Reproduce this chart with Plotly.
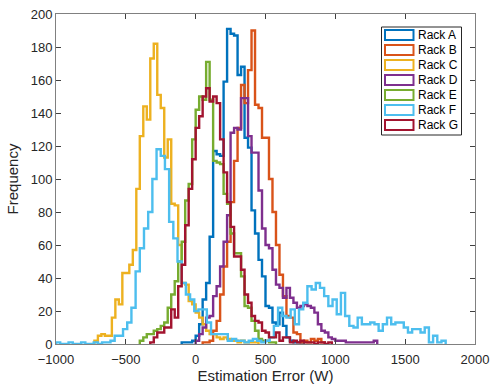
import numpy as np
import plotly.graph_objects as go

# ---------------- data ----------------
rack_names = ["Rack A", "Rack B", "Rack C", "Rack D", "Rack E", "Rack F", "Rack G"]

# first bin edge (W), bin width (W) and bin counts for every rack
rack_a_start, rack_a_width = -100, 25
rack_a_counts = [1, 1, 1, 2, 5, 12, 27, 37, 65, 117, 115, 114, 159, 191, 188, 187, 163, 168,
                 125, 119, 81, 67, 51, 41, 23, 22, 13, 12, 19, 11, 4, 2, 1, 1, 1]

rack_b_start, rack_b_width = 50, 25
rack_b_counts = [1, 1, 2, 8, 14, 30, 47, 62, 86, 111, 131, 157, 146, 166, 190, 145, 143, 125,
                 125, 100, 80, 60, 42, 29, 17, 16, 7, 6, 1, 2, 1, 3, 2, 3, 1]

rack_c_start, rack_c_width = -725, 25
rack_c_counts = [2, 5, 6, 5, 5, 16, 27, 24, 43, 43, 48, 57, 94, 126, 144, 136, 173, 182, 151,
                 143, 113, 124, 85, 84, 60, 37, 36, 26, 24, 19, 16, 12, 8, 6, 6, 4, 3, 4, 3,
                 2, 2, 1, 2, 1, 1, 1, 1]

rack_d_start, rack_d_width = 0, 25
rack_d_counts = [2, 6, 10, 16, 17, 29, 35, 47, 62, 78, 128, 131, 130, 149, 149, 126, 116, 116,
                 93, 70, 60, 58, 45, 36, 34, 28, 34, 28, 25, 22, 23, 24, 23, 22, 19, 12, 8, 7,
                 4, 3, 2, 2, 2, 1, 1, 1, 1, 1, 1, 1, 1, 2]

rack_e_start, rack_e_width = -400, 25
rack_e_counts = [2, 4, 6, 6, 8, 9, 11, 13, 22, 30, 38, 50, 62, 87, 97, 124, 142, 150, 148, 171,
                 148, 111, 110, 109, 91, 85, 67, 55, 55, 41, 23, 22, 14, 8, 3, 2, 2, 1, 1]

rack_f_start, rack_f_width = -1000, 30
rack_f_counts = [1, 0, 0, 1, 0, 0, 1, 0, 0, 1,
                 0, 1, 1, 2, 5, 5, 9, 13, 22, 44,
                 58, 70, 80, 100, 118, 114, 106, 74, 64, 50,
                 37, 30, 27, 20, 21, 21, 13, 6, 6, 6,
                 6, 2, 3, 2, 2, 1, 2, 3, 2, 1,
                 2, 4, 11, 22, 17, 16, 21, 12, 21, 25,
                 35, 33, 37, 34, 29, 23, 27, 18, 31, 17,
                 11, 10, 16, 12, 12, 13, 12, 8, 12, 16,
                 12, 13, 13, 10, 7, 9, 9, 7, 10, 1,
                 5, 1, 2]

rack_g_start, rack_g_width = -325, 25
rack_g_counts = [1, 4, 7, 7, 10, 10, 21, 16, 35, 48, 72, 94, 112, 131, 138, 150, 155, 147, 150,
                 146, 124, 104, 86, 71, 53, 53, 45, 30, 25, 17, 14, 13, 8, 7, 4, 4, 7, 2, 4,
                 4, 1, 2, 1, 2, 1, 1, 1, 0, 1, 1, 0, 1]

x_ticks = [-1000, -500, 0, 500, 1000, 1500, 2000]
y_ticks = [0, 20, 40, 60, 80, 100, 120, 140, 160, 180, 200]

# ---------------- styling ----------------
colors = ["#0072BD", "#D95319", "#EDB120", "#7E2F8E", "#77AC30", "#4DBEEE", "#A2142F"]
series = [
    (rack_a_start, rack_a_width, rack_a_counts),
    (rack_b_start, rack_b_width, rack_b_counts),
    (rack_c_start, rack_c_width, rack_c_counts),
    (rack_d_start, rack_d_width, rack_d_counts),
    (rack_e_start, rack_e_width, rack_e_counts),
    (rack_f_start, rack_f_width, rack_f_counts),
    (rack_g_start, rack_g_width, rack_g_counts),
]

FONT = "Liberation Sans, Arial, sans-serif"
W, H = 490, 387
ML, MR, MT, MB = 56, 15, 14, 43
PW, PH = W - ML - MR, H - MT - MB


def stairs(start, width, counts):
    counts = np.asarray(counts, dtype=float)
    edges = start + width * np.arange(len(counts) + 1)
    x = np.concatenate([[edges[0]], edges[:-1], [edges[-1], edges[-1]]])
    y = np.concatenate([[0.0], counts, [counts[-1], 0.0]])
    return x, y


fig = go.Figure()
for name, color, (start, width, counts) in zip(rack_names, colors, series):
    x, y = stairs(start, width, counts)
    fig.add_trace(go.Scatter(x=x, y=y, mode="lines", name=name,
                             line=dict(color=color, width=2.4, shape="hv"),
                             showlegend=False, hoverinfo="skip"))


def px_x(p):
    return (p - ML) / PW


def px_y(p):
    return (H - MB - p) / PH


# manual MATLAB-like legend
shapes = [dict(type="rect", xref="paper", yref="paper",
               x0=px_x(381.5), x1=px_x(461.5), y0=px_y(135), y1=px_y(27),
               line=dict(color="#262626", width=1), fillcolor="white", layer="above")]
annotations = []
for i, (name, color) in enumerate(zip(rack_names, colors)):
    cy = 35 + 15 * i
    shapes.append(dict(type="rect", xref="paper", yref="paper",
                       x0=px_x(385), x1=px_x(413.5), y0=px_y(cy + 5), y1=px_y(cy - 5),
                       line=dict(color=color, width=2), fillcolor="white", layer="above"))
    annotations.append(dict(xref="paper", yref="paper", x=px_x(416), y=px_y(cy),
                            xanchor="left", yanchor="middle", text=name, showarrow=False,
                            font=dict(family=FONT, size=12, color="#000000")))

axis_common = dict(showline=True, linecolor="#808080", linewidth=1, mirror="ticks",
                   ticks="inside", ticklen=5, tickcolor="#404040", tickwidth=1,
                   showgrid=False, zeroline=False, automargin=False,
                   tickfont=dict(family=FONT, size=13, color="#262626"))

fig.update_layout(
    width=W, height=H,
    margin=dict(l=ML, r=MR, t=MT, b=MB, pad=0),
    paper_bgcolor="white", plot_bgcolor="white",
    shapes=shapes, annotations=annotations,
    xaxis=dict(range=[-1000, 2000], tickvals=x_ticks, ticklabelstandoff=3,
               title=dict(text="Estimation Error (W)", standoff=4,
                          font=dict(family=FONT, size=15, color="#262626")),
               **axis_common),
    yaxis=dict(range=[0, 200], tickvals=y_ticks,
               title=dict(text="Frequency", standoff=8,
                          font=dict(family=FONT, size=15, color="#262626")),
               **axis_common),
)

fig.write_html("out.html")
